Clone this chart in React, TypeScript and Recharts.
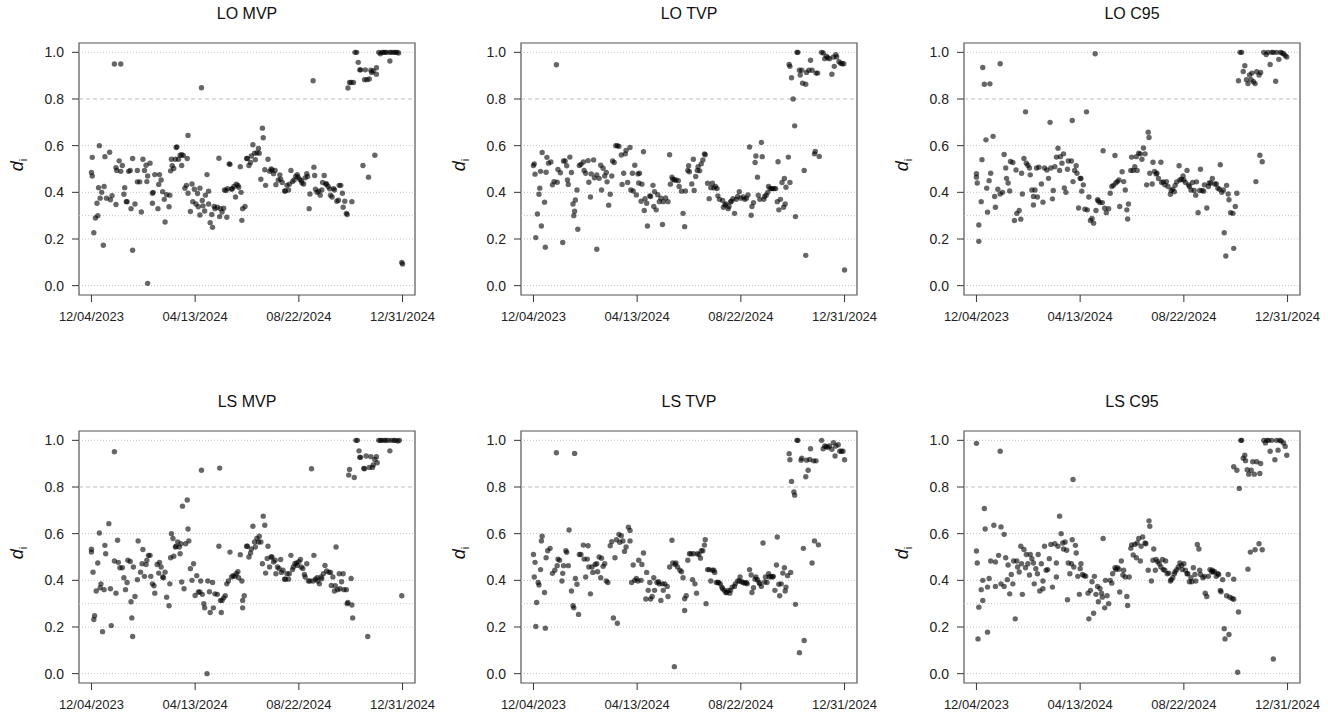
import React from 'react';
import {
  ScatterChart,
  Scatter,
  XAxis,
  YAxis,
  ReferenceLine,
  ReferenceArea,
} from 'recharts';

// x = days since 12/04/2023, y = d_i
const LO_MVP = [
  [0,.485],[1,.47],[1,.55],[3,.227],[5,.29],[8,.30],[7,.353],[9,.42],[10,.60],[11,.375],[13,.40],[15,.173],[16,.425],[17,.553],[19,.375],[23,.572],[24,.368],[26,.386],[29,.95],[31,.506],[31,.348],[32,.494],[35,.535],[37,.95],[37,.49],[39,.515],[41,.392],[42,.42],[44,.36],[45,.36],[47,.49],[49,.494],[50,.33],[52,.545],[52,.152],[55,.35],[58,.494],[58,.445],[61,.445],[63,.316],[65,.542],[67,.494],[69,.516],[70,.446],[71,.47],[71,.01],[74,.525],[77,.396],[78,.40],[77,.353],[80,.476],[84,.33],[85,.434],[86,.476],[88,.453],[90,.403],[92,.37],[93,.273],[95,.39],[98,.338],[99,.388],[100,.492],[101,.542],[102,.514],[104,.502],[106,.542],[107,.592],[108,.595],[110,.542],[112,.559],[114,.561],[114,.515],[116,.558],[118,.418],[120,.43],[122,.644],[122,.396],[121,.545],[125,.318],[127,.436],[128,.36],[130,.413],[132,.35],[134,.395],[135,.338],[137,.303],[137,.418],[139,.848],[140,.365],[141,.342],[143,.32],[144,.388],[146,.476],[148,.405],[148,.35],[150,.27],[152,.305],[153,.25],[155,.34],[156,.33],[159,.336],[161,.546],[162,.296],[163,.33],[165,.316],[167,.332],[168,.41],[170,.408],[171,.293],[172,.416],[174,.522],[175,.52],[177,.413],[178,.416],[180,.425],[182,.38],[183,.435],[185,.43],[186,.422],[188,.51],[189,.40],[190,.28],[191,.33],[194,.339],[196,.545],[197,.545],[199,.515],[201,.528],[202,.556],[204,.604],[206,.568],[207,.54],[209,.569],[211,.588],[212,.568],[214,.456],[216,.675],[217,.634],[219,.497],[220,.43],[223,.542],[225,.49],[227,.50],[228,.496],[230,.48],[232,.494],[233,.433],[236,.453],[238,.475],[239,.456],[241,.442],[244,.406],[245,.406],[247,.43],[249,.41],[250,.435],[252,.494],[254,.446],[256,.453],[258,.468],[260,.476],[261,.465],[263,.456],[265,.45],[266,.44],[268,.436],[270,.462],[272,.48],[273,.468],[275,.33],[276,.393],[280,.878],[281,.508],[282,.472],[283,.413],[285,.40],[287,.405],[289,.388],[291,.41],[292,.442],[294,.472],[296,.436],[297,.436],[299,.425],[301,.415],[302,.388],[304,.38],[306,.416],[307,.41],[310,.362],[312,.366],[313,.43],[315,.43],[317,.396],[318,.336],[320,.362],[322,.31],[323,.305],[324,.847],[326,.871],[328,.871],[329,.36],[331,.871],[333,1],[335,1],[337,.957],[339,.925],[340,.925],[343,.515],[345,.883],[346,.925],[348,.883],[350,.465],[351,.886],[353,.923],[354,.914],[356,.92],[358,.559],[360,.934],[360,.906],[363,1],[365,.994],[367,1],[369,1],[371,1],[373,1],[377,.963],[377,1],[379,1],[382,1],[384,1],[386,1],[388,.997],[392,.099],[393,.093],
];

const LO_TVP = [
  [0,.515],[1,.522],[2,.478],[3,.206],[5,.307],[7,.392],[8,.418],[9,.49],[10,.256],[11,.571],[14,.358],[15,.165],[16,.486],[17,.55],[19,.525],[22,.53],[24,.432],[26,.446],[29,.947],[30,.443],[31,.498],[34,.484],[37,.185],[38,.534],[40,.534],[42,.514],[43,.453],[44,.434],[46,.551],[48,.485],[50,.35],[51,.30],[52,.319],[53,.367],[55,.41],[56,.242],[58,.515],[60,.52],[63,.53],[64,.494],[66,.482],[69,.536],[70,.443],[72,.38],[73,.479],[76,.539],[77,.462],[80,.475],[80,.156],[83,.46],[85,.516],[86,.41],[88,.503],[90,.47],[92,.485],[93,.445],[95,.345],[97,.392],[99,.47],[100,.534],[102,.528],[104,.60],[106,.60],[108,.597],[111,.56],[112,.434],[114,.482],[116,.565],[117,.58],[119,.442],[122,.592],[123,.41],[125,.482],[126,.406],[128,.516],[130,.389],[132,.479],[133,.44],[134,.482],[136,.362],[137,.435],[139,.574],[140,.322],[141,.373],[143,.353],[144,.256],[147,.385],[148,.382],[151,.43],[152,.339],[153,.403],[155,.325],[157,.39],[159,.36],[161,.375],[163,.262],[164,.36],[167,.376],[170,.36],[172,.561],[173,.435],[175,.465],[176,.456],[178,.453],[180,.453],[183,.45],[184,.425],[187,.405],[189,.31],[191,.253],[192,.406],[195,.494],[196,.514],[197,.488],[200,.436],[202,.542],[203,.408],[205,.468],[207,.494],[208,.51],[210,.492],[212,.522],[214,.539],[216,.565],[217,.561],[220,.439],[222,.373],[224,.42],[226,.439],[228,.419],[230,.425],[232,.416],[233,.385],[235,.37],[239,.365],[240,.336],[242,.346],[243,.35],[246,.33],[247,.339],[249,.359],[250,.362],[252,.373],[254,.31],[256,.37],[258,.382],[260,.403],[262,.375],[265,.38],[267,.37],[269,.375],[271,.389],[273,.594],[275,.302],[276,.339],[278,.356],[280,.528],[281,.556],[283,.465],[284,.388],[286,.37],[288,.614],[289,.553],[291,.37],[292,.382],[294,.388],[296,.40],[297,.425],[299,.416],[301,.416],[302,.416],[304,.416],[306,.416],[308,.36],[309,.531],[310,.325],[312,.37],[314,.442],[316,.336],[317,.459],[318,.35],[319,.422],[322,.551],[323,.948],[324,.94],[324,.442],[326,.891],[328,.80],[330,.685],[331,.296],[333,1],[334,1],[336,.923],[337,.903],[339,.923],[340,.868],[342,.494],[344,.13],[344,.863],[345,.914],[348,.923],[350,.966],[352,.923],[355,.565],[356,.575],[357,.911],[359,.911],[361,.554],[364,1],[366,.997],[368,.973],[370,.983],[372,.977],[374,.973],[377,.906],[379,.98],[380,.94],[382,.99],[383,.98],[386,.96],[388,.953],[390,.951],[392,.951],[393,.067],
];

const LO_C95 = [
  [0,.465],[0,.48],[1,.44],[3,.19],[3,.26],[6,.36],[7,.54],[8,.935],[10,.863],[12,.625],[13,.418],[14,.315],[16,.45],[17,.865],[18,.482],[21,.64],[23,.382],[24,.336],[27,.413],[30,.951],[30,.393],[33,.40],[35,.562],[37,.504],[38,.46],[40,.44],[42,.406],[43,.532],[46,.528],[48,.279],[50,.496],[51,.31],[54,.322],[56,.285],[57,.482],[58,.393],[60,.545],[62,.745],[63,.525],[65,.516],[67,.504],[68,.475],[70,.41],[72,.382],[72,.346],[74,.41],[76,.504],[77,.38],[79,.508],[82,.436],[84,.358],[86,.504],[89,.496],[91,.46],[93,.70],[94,.504],[96,.372],[97,.408],[99,.51],[101,.551],[103,.589],[105,.494],[106,.553],[108,.525],[110,.565],[111,.419],[113,.40],[115,.499],[116,.534],[120,.534],[121,.708],[122,.446],[124,.494],[126,.514],[127,.482],[129,.333],[131,.46],[132,.459],[133,.405],[135,.432],[137,.328],[139,.745],[140,.325],[142,.38],[144,.279],[146,.288],[148,.268],[150,.994],[151,.322],[153,.368],[154,.363],[156,.356],[159,.356],[160,.578],[162,.332],[164,.313],[167,.33],[169,.396],[171,.425],[173,.43],[175,.558],[176,.44],[178,.446],[180,.453],[181,.339],[184,.488],[186,.446],[188,.41],[190,.325],[191,.286],[192,.35],[195,.494],[196,.551],[198,.494],[200,.51],[202,.553],[203,.494],[205,.568],[207,.565],[209,.542],[211,.59],[213,.565],[215,.432],[217,.658],[218,.635],[219,.482],[222,.436],[223,.529],[225,.49],[227,.479],[228,.482],[230,.459],[233,.529],[234,.442],[236,.445],[238,.432],[240,.446],[242,.425],[245,.392],[246,.408],[248,.413],[250,.403],[251,.43],[253,.445],[256,.514],[257,.453],[259,.456],[261,.47],[262,.453],[264,.442],[266,.494],[268,.432],[269,.425],[271,.41],[273,.442],[275,.408],[277,.388],[278,.445],[280,.313],[282,.408],[283,.499],[285,.408],[287,.405],[288,.432],[291,.333],[293,.425],[294,.44],[296,.44],[298,.459],[301,.436],[303,.436],[305,.418],[307,.413],[308,.518],[310,.40],[312,.41],[313,.227],[315,.127],[316,.43],[318,.393],[319,.368],[321,.313],[324,.31],[325,.16],[327,.339],[329,.396],[331,.878],[333,1],[335,1],[337,.918],[339,.943],[341,.883],[343,.866],[345,.903],[347,.883],[348,.911],[350,.874],[352,.866],[353,.446],[354,.917],[357,.903],[358,.559],[359,.914],[361,.531],[363,1],[366,.991],[368,1],[371,.948],[373,1],[375,1],[378,.876],[379,1],[382,.97],[384,1],[386,.997],[388,.994],[390,.986],[392,.98],
];

const LS_MVP = [
  [0,.533],[0,.521],[2,.435],[3,.232],[4,.248],[6,.354],[8,.474],[10,.603],[11,.368],[12,.385],[14,.18],[16,.36],[17,.55],[18,.514],[22,.643],[24,.364],[25,.206],[29,.951],[29,.483],[31,.345],[33,.572],[34,.477],[36,.454],[39,.454],[41,.411],[43,.36],[45,.391],[46,.486],[49,.481],[50,.308],[51,.239],[52,.159],[53,.457],[55,.331],[58,.403],[59,.569],[62,.435],[64,.471],[65,.532],[67,.417],[69,.468],[70,.486],[72,.507],[74,.507],[75,.417],[77,.385],[79,.377],[80,.345],[83,.468],[85,.431],[86,.477],[88,.457],[90,.414],[91,.411],[93,.435],[95,.328],[98,.291],[99,.385],[100,.497],[101,.60],[103,.579],[104,.503],[106,.543],[107,.546],[109,.565],[111,.543],[112,.514],[113,.557],[114,.393],[115,.718],[117,.364],[119,.557],[121,.744],[122,.62],[123,.569],[125,.45],[127,.40],[129,.471],[131,.335],[133,.42],[135,.35],[137,.35],[138,.397],[139,.872],[140,.34],[142,.30],[143,.282],[146,0],[147,.397],[149,.351],[150,.262],[153,.391],[154,.282],[156,.342],[159,.34],[161,.546],[162,.881],[163,.314],[164,.262],[165,.314],[167,.325],[169,.334],[171,.385],[173,.397],[175,.521],[177,.414],[179,.42],[181,.417],[183,.428],[185,.437],[186,.411],[188,.51],[190,.397],[191,.314],[191,.282],[193,.334],[196,.546],[197,.546],[199,.50],[201,.517],[202,.534],[204,.632],[206,.564],[207,.543],[209,.58],[211,.564],[212,.589],[214,.564],[216,.471],[217,.675],[219,.636],[220,.431],[222,.494],[223,.546],[225,.457],[227,.50],[228,.50],[230,.479],[232,.486],[233,.428],[235,.457],[237,.451],[239,.489],[240,.434],[242,.443],[244,.405],[245,.405],[247,.428],[249,.405],[250,.428],[252,.507],[254,.446],[255,.457],[257,.471],[259,.474],[260,.464],[262,.48],[264,.489],[265,.457],[267,.451],[269,.425],[270,.414],[272,.471],[274,.397],[276,.397],[278,.878],[280,.397],[281,.507],[283,.405],[285,.411],[286,.397],[288,.385],[290,.414],[291,.407],[293,.428],[295,.464],[297,.44],[300,.435],[302,.434],[303,.378],[305,.414],[307,.354],[308,.377],[309,.543],[311,.36],[313,.428],[314,.364],[316,.394],[318,.428],[319,.36],[322,.36],[323,.30],[324,.305],[325,.851],[326,.875],[328,.408],[329,.294],[330,.239],[332,.841],[334,1],[336,1],[338,.955],[339,.927],[340,.927],[344,.88],[345,.878],[347,.933],[349,.159],[351,.884],[353,.93],[355,.884],[356,.894],[358,.918],[360,.93],[361,.904],[363,1],[365,1],[367,1],[370,1],[372,1],[375,1],[377,.955],[379,1],[382,1],[384,1],[387,.997],[389,1],[392,.334],
];

const LS_TVP = [
  [0,.511],[1,.414],[2,.477],[3,.202],[4,.305],[6,.391],[7,.38],[9,.446],[10,.569],[11,.589],[14,.348],[15,.195],[16,.497],[18,.527],[21,.537],[24,.43],[27,.443],[29,.947],[30,.463],[31,.491],[33,.486],[36,.397],[37,.43],[38,.463],[41,.527],[42,.52],[44,.463],[45,.616],[48,.354],[50,.291],[51,.282],[52,.944],[53,.408],[55,.383],[57,.254],[58,.511],[60,.511],[63,.551],[64,.491],[66,.414],[68,.491],[69,.548],[70,.457],[72,.342],[74,.457],[75,.434],[78,.468],[80,.471],[81,.437],[83,.50],[85,.411],[86,.495],[88,.46],[90,.471],[92,.397],[94,.391],[97,.548],[99,.566],[101,.239],[103,.497],[105,.574],[106,.216],[108,.597],[109,.563],[111,.591],[113,.569],[115,.524],[117,.543],[120,.628],[122,.614],[122,.569],[124,.391],[126,.466],[128,.40],[130,.408],[132,.397],[133,.486],[136,.40],[137,.468],[139,.517],[142,.32],[143,.434],[145,.357],[147,.391],[148,.32],[150,.331],[152,.411],[153,.357],[156,.391],[158,.394],[159,.385],[161,.314],[163,.385],[164,.357],[166,.385],[169,.374],[170,.331],[172,.457],[175,.572],[176,.474],[178,.03],[179,.468],[180,.474],[182,.457],[185,.443],[187,.437],[189,.411],[191,.321],[191,.271],[193,.334],[195,.486],[197,.514],[199,.514],[201,.403],[202,.514],[204,.385],[206,.345],[207,.514],[209,.511],[211,.495],[212,.527],[214,.527],[216,.551],[217,.574],[218,.30],[220,.446],[222,.446],[224,.397],[226,.443],[228,.443],[229,.434],[231,.391],[233,.391],[234,.391],[236,.385],[238,.371],[239,.364],[241,.357],[243,.348],[244,.348],[246,.357],[248,.345],[249,.357],[251,.371],[254,.374],[255,.385],[258,.397],[260,.397],[261,.414],[263,.394],[265,.391],[267,.388],[269,.391],[270,.385],[273,.446],[275,.423],[276,.348],[278,.368],[280,.405],[281,.414],[283,.403],[285,.391],[286,.385],[288,.374],[290,.56],[292,.393],[293,.414],[295,.391],[297,.428],[298,.414],[300,.417],[302,.414],[303,.417],[305,.357],[307,.466],[308,.586],[310,.383],[311,.334],[313,.385],[315,.431],[317,.454],[318,.354],[319,.371],[321,.42],[323,.943],[324,.917],[325,.434],[326,.824],[329,.779],[330,.765],[331,.297],[333,1],[334,1],[336,.09],[338,.915],[339,.923],[341,.537],[342,.142],[344,.844],[345,.915],[347,.872],[349,.918],[350,.964],[352,.474],[354,.912],[355,.569],[357,.912],[360,.552],[364,1],[366,.964],[368,.976],[370,.973],[372,.97],[374,.976],[377,.962],[379,.99],[381,.933],[382,.976],[385,.981],[387,.953],[389,.953],[391,.953],[393,.917],
];

const LS_C95 = [
  [0,.526],[0,.987],[1,.474],[2,.149],[3,.285],[6,.36],[8,.40],[8,.314],[10,.708],[11,.62],[14,.371],[14,.178],[16,.408],[18,.483],[22,.636],[24,.374],[24,.479],[28,.507],[30,.953],[31,.385],[31,.629],[35,.597],[35,.374],[37,.497],[39,.403],[40,.466],[42,.342],[44,.425],[46,.385],[47,.483],[49,.235],[51,.483],[52,.457],[54,.436],[56,.546],[57,.471],[58,.34],[60,.532],[62,.454],[63,.511],[65,.471],[67,.423],[68,.511],[70,.493],[72,.474],[73,.385],[75,.45],[77,.428],[78,.511],[80,.354],[82,.471],[84,.397],[84,.364],[86,.546],[88,.443],[90,.446],[92,.493],[94,.554],[96,.371],[99,.557],[101,.474],[101,.414],[103,.546],[105,.675],[107,.60],[109,.56],[110,.534],[112,.564],[114,.529],[115,.317],[116,.474],[118,.428],[120,.471],[121,.574],[122,.832],[123,.457],[125,.55],[126,.517],[128,.417],[130,.34],[131,.45],[132,.471],[134,.425],[136,.42],[138,.418],[141,.345],[142,.235],[144,.357],[146,.394],[148,.259],[149,.417],[151,.34],[153,.374],[154,.308],[156,.365],[158,.345],[159,.328],[160,.579],[162,.282],[163,.40],[165,.334],[167,.30],[169,.40],[171,.388],[172,.428],[175,.454],[176,.446],[178,.454],[180,.448],[181,.35],[183,.483],[185,.423],[186,.443],[188,.414],[190,.331],[191,.292],[193,.414],[195,.537],[196,.552],[198,.509],[200,.554],[202,.497],[203,.56],[205,.579],[207,.483],[208,.546],[210,.586],[213,.56],[214,.557],[217,.443],[218,.655],[219,.632],[221,.397],[223,.486],[224,.534],[226,.443],[227,.489],[229,.48],[231,.471],[233,.457],[235,.489],[236,.446],[238,.443],[239,.483],[241,.428],[243,.431],[245,.397],[246,.403],[248,.411],[250,.428],[251,.437],[253,.446],[255,.457],[257,.474],[259,.464],[260,.446],[262,.471],[264,.443],[266,.428],[267,.428],[269,.394],[271,.411],[272,.394],[274,.454],[276,.425],[277,.397],[279,.554],[281,.534],[282,.443],[283,.425],[286,.411],[288,.417],[289,.345],[291,.331],[293,.417],[295,.446],[297,.437],[298,.443],[299,.436],[301,.437],[303,.417],[305,.428],[306,.425],[308,.357],[309,.351],[311,.403],[313,.193],[314,.149],[316,.334],[318,.425],[319,.168],[320,.328],[323,.322],[325,.319],[325,.405],[325,.887],[329,.872],[330,.006],[331,.264],[332,.794],[334,1],[335,1],[337,.923],[339,.936],[340,.913],[342,.874],[343,.448],[344,.855],[346,.521],[347,.872],[349,.908],[351,.855],[352,.531],[354,.908],[357,.557],[358,.858],[359,.901],[361,.531],[363,1],[365,.989],[367,1],[369,1],[371,.953],[373,1],[375,.063],[377,.917],[379,1],[381,.958],[383,1],[385,.997],[388,.989],[390,.974],[392,.936],
];

const X_TICKS = [0, 131, 262, 393];
const X_TICK_LABELS = ['12/04/2023', '04/13/2024', '08/22/2024', '12/31/2024'];
const Y_TICKS = [0, 0.2, 0.4, 0.6, 0.8, 1.0];
const DOTTED_LINES = [0, 0.2, 0.3, 0.4, 0.6, 1.0];
const DASHED_LINES = [0.8];

const X_DOMAIN = [-15.72, 408.72];
const Y_DOMAIN = [-0.04, 1.04];

const BOX_W = 336;
const BOX_H = 252;
const font = '"Liberation Sans", Arial, sans-serif';

const Dot = (props: any) => (
  <circle cx={props.cx} cy={props.cy} r={2.7} fill="#000" fillOpacity={0.6} />
);

const Panel = ({ title, data, left, top }: { title: string; data: number[][]; left: number; top: number }) => {
  const points = data.map(([x, y]) => ({ x, y }));
  return (
    <>
      <div
        style={{
          position: 'absolute',
          left: left,
          width: BOX_W,
          top: top - 38,
          textAlign: 'center',
          fontSize: 16,
          color: '#111',
        }}
      >
        {title}
      </div>
      <div
        style={{
          position: 'absolute',
          left: left - 61,
          top: top + BOX_H / 2 - 4,
          transform: 'translate(-50%, -50%) rotate(-90deg)',
          fontSize: 18,
          color: '#111',
          whiteSpace: 'nowrap',
        }}
      >
        <i>d</i>
        <sub style={{ fontSize: 11 }}>i</sub>
      </div>
      <div style={{ position: 'absolute', left: left - 60, top: top - 43 }}>
        <ScatterChart
          width={60 + BOX_W + 40}
          height={43 + BOX_H + 40}
          margin={{ top: 43, right: 40, bottom: 0, left: 0 }}
        >
          <XAxis
            type="number"
            dataKey="x"
            domain={X_DOMAIN}
            ticks={X_TICKS}
            interval={0}
            tickFormatter={(v) => X_TICK_LABELS[X_TICKS.indexOf(v)]}
            axisLine={false}
            tickLine={{ stroke: '#333' }}
            tickSize={7}
            tickMargin={10}
            height={40}
            tick={{ fontSize: 13, fill: '#222', fontFamily: font }}
          />
          <YAxis
            type="number"
            dataKey="y"
            domain={Y_DOMAIN}
            ticks={Y_TICKS}
            interval={0}
            tickFormatter={(v) => v.toFixed(1)}
            axisLine={false}
            tickLine={{ stroke: '#333' }}
            tickSize={7}
            tickMargin={8}
            width={60}
            tick={{ fontSize: 14, fill: '#222', fontFamily: font }}
          />
          {DOTTED_LINES.map((v) => (
            <ReferenceLine key={'d' + v} y={v} stroke="#c4c4c4" strokeDasharray="1 2" />
          ))}
          {DASHED_LINES.map((v) => (
            <ReferenceLine key={'s' + v} y={v} stroke="#bdbdbd" strokeDasharray="4 3" />
          ))}
          <ReferenceArea
            x1={X_DOMAIN[0]}
            x2={X_DOMAIN[1]}
            y1={Y_DOMAIN[0]}
            y2={Y_DOMAIN[1]}
            fill="none"
            stroke="#555"
            strokeWidth={1.2}
          />
          <Scatter data={points} shape={<Dot />} isAnimationActive={false} />
        </ScatterChart>
      </div>
    </>
  );
};

export default function App() {
  return (
    <div
      style={{
        position: 'absolute',
        left: 0,
        top: 0,
        width: 1328,
        height: 720,
        background: '#fff',
        fontFamily: font,
      }}
    >
      <Panel title="LO MVP" data={LO_MVP} left={79} top={43} />
      <Panel title="LO TVP" data={LO_TVP} left={521} top={43} />
      <Panel title="LO C95" data={LO_C95} left={964} top={43} />
      <Panel title="LS MVP" data={LS_MVP} left={79} top={431} />
      <Panel title="LS TVP" data={LS_TVP} left={521} top={431} />
      <Panel title="LS C95" data={LS_C95} left={964} top={431} />
    </div>
  );
}
